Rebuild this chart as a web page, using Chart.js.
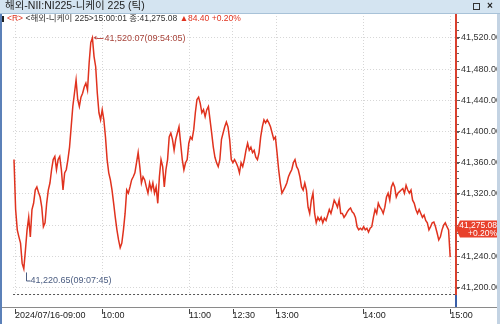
<!DOCTYPE html>
<html>
<head>
<meta charset="utf-8">
<script src="https://cdn.jsdelivr.net/npm/chart.js@4.4.1/dist/chart.umd.min.js"></script>
<style>
  html, body { margin: 0; padding: 0; background: #fff; }
  #wrap { width: 500px; height: 324px; position: relative; }
</style>
</head>
<body>
<div id="wrap"><canvas id="chart"></canvas></div>
<script>
// Nikkei 225 tick chart, 2024/07/16
const titleText = '해외-NII:NI225-니케이 225 (틱)';
const quoteName = '<해외-니케이 225>';
const quoteTime = '15:00:01';
const closeText = '41,275.08';
const changeText = '▲84.40 +0.20%';
const changePct = '+0.20%';
const lastPrice = 41275.08;

// prices, evenly spaced through the session
const prices = [
  41364,41300,41274,41265,41257,41231,41224,41248,41274,41290,41265,41300,41308,41325,41329,41322,41316,41303,41278,41283,
  41308,41325,41334,41351,41364,41368,41351,41364,41368,41351,41325,41347,41351,41364,41380,41406,41432,41449,41466,41441,
  41432,41444,41449,41457,41462,41453,41488,41514,41520,41496,41483,41449,41424,41415,41428,41415,41393,41364,41347,41338,
  41325,41308,41290,41274,41261,41251,
  41257,41274,41295,41325,41321,41329,41338,41342,41347,41360,41373,41355,41334,41342,41338,41329,41321,41334,41325,41334,
  41321,41329,41308,41342,41364,41355,41329,41351,41364,41393,41398,41390,41376,41390,41398,41406,41385,41364,41351,41360,
  41364,41385,41393,41390,41402,41424,41441,41444,41436,41424,41428,41419,41428,41432,41415,41398,41380,41367,41360,41355,
  41364,41390,41398,41406,41412,41406,41390,41364,41360,
  41364,41360,41355,41347,41360,41355,41364,41376,41385,41376,41380,41373,41376,41367,41364,41373,41393,41406,41415,41411,
  41415,41411,41406,41398,41390,41393,41373,41351,41334,41321,41325,41329,41334,41342,41347,41351,41360,41364,41355,41351,
  41342,41329,41325,41334,41325,41303,41295,41312,41321,41295,41283,41290,41286,41290,41283,41289,41286,41293,41300,41295,
  41303,41312,41308,41303,41312,41295,
  41295,41290,41293,41297,41300,41302,41297,41295,41290,41278,41274,41276,41274,41278,41274,41276,41271,41276,41278,41290,
  41300,41295,41308,41303,41300,41295,41303,41316,41321,41312,41329,41334,41329,41316,41321,41323,41325,41327,41321,41331,
  41325,41321,41325,41312,41308,41300,41295,41300,41295,41290,41293,41286,41283,41274,41278,41283,41284,41278,41270,41261,
  41265,41274,41280,41283,41278,41274,41239
];
// trading minutes from 09:00 (lunch 11:30-12:30 removed)
const startMinute = -0.7;
const endMinute = 300;

const xTickMinutes = [0, 60, 120, 150, 180, 240, 300];
const xTickLabels = ['2024/07/16-09:00', '10:00', '11:00', '12:30', '13:00', '14:00', '15:00'];
const yTickValues = [41200, 41240, 41280, 41320, 41360, 41400, 41440, 41480, 41520];

const highValue = 41520.07, highMinute = 54.08, highLabel = '41,520.07(09:54:05)';
const lowValue = 41220.65, lowMinute = 7.75, lowLabel = '41,220.65(09:07:45)';

const points = prices.map(function(p, i) {
  return { x: startMinute + i * (endMinute - startMinute) / (prices.length - 1), y: p };
});

const headFont = '"Liberation Sans", "Noto Sans CJK KR", sans-serif';

const decorPlugin = {
  id: 'decor',
  beforeDraw: function(chart) {
    const ctx = chart.ctx;
    ctx.save();
    ctx.fillStyle = '#fff';
    ctx.fillRect(0, 0, chart.width, chart.height);
    ctx.restore();
  },
  afterDraw: function(chart) {
    const ctx = chart.ctx;
    const xs = chart.scales.x, ys = chart.scales.y;
    const area = chart.chartArea;
    ctx.save();

    // dashed bottom line
    ctx.strokeStyle = '#555';
    ctx.lineWidth = 1;
    ctx.setLineDash([2, 2]);
    ctx.beginPath();
    ctx.moveTo(area.left, area.bottom - 0.5);
    ctx.lineTo(area.right, area.bottom - 0.5);
    ctx.stroke();
    ctx.setLineDash([]);

    // time band
    ctx.strokeStyle = '#8a8a8a';
    ctx.beginPath();
    ctx.moveTo(0, 307.5);
    ctx.lineTo(500, 307.5);
    ctx.stroke();
    ctx.strokeStyle = '#444';
    xTickMinutes.forEach(function(m) {
      const px = Math.round(xs.getPixelForValue(m)) + 0.5;
      ctx.beginPath();
      ctx.moveTo(px, 309);
      ctx.lineTo(px, 314);
      ctx.stroke();
    });

    // right axis line
    ctx.fillStyle = '#d9402e';
    ctx.fillRect(area.right - 1, 14, 2, area.bottom - 14);
    ctx.fillStyle = '#3a5fa8';
    ctx.fillRect(area.right - 1, area.bottom, 2, 307 - area.bottom);
    // minor ticks
    ctx.strokeStyle = '#666';
    for (let v = 41200; v <= 41540; v += 10) {
      const py = Math.round(ys.getPixelForValue(v)) + 0.5;
      ctx.beginPath();
      ctx.moveTo(area.right + 1, py);
      ctx.lineTo(area.right + 3, py);
      ctx.stroke();
    }

    // high annotation
    const hx = xs.getPixelForValue(highMinute), hy = ys.getPixelForValue(highValue);
    ctx.strokeStyle = '#c0504a';
    ctx.fillStyle = '#c0504a';
    ctx.beginPath();
    ctx.moveTo(hx, hy); ctx.lineTo(hx + 3, hy - 2); ctx.lineTo(hx + 3, hy + 2); ctx.closePath(); ctx.fill();
    ctx.beginPath();
    ctx.moveTo(hx + 3, Math.round(hy) + 0.5); ctx.lineTo(hx + 10, Math.round(hy) + 0.5);
    ctx.stroke();
    ctx.font = '9px "Liberation Sans", Arial, sans-serif';
    ctx.textBaseline = 'middle';
    ctx.fillStyle = '#a8453c';
    ctx.fillText(highLabel, hx + 11, hy + 0.5);

    // low annotation
    const lx = Math.round(xs.getPixelForValue(lowMinute)) + 0.5, ly = ys.getPixelForValue(lowValue);
    ctx.strokeStyle = '#4a5c80';
    ctx.beginPath();
    ctx.moveTo(lx, ly + 1); ctx.lineTo(lx, ly + 9.5); ctx.lineTo(lx + 4, ly + 9.5);
    ctx.stroke();
    ctx.fillStyle = '#4a5c80';
    ctx.fillText(lowLabel, lx + 4, ly + 9.5);

    // price box
    const py = ys.getPixelForValue(lastPrice);
    ctx.fillStyle = '#e8412c';
    ctx.beginPath();
    ctx.moveTo(area.right, py);
    ctx.lineTo(area.right + 4, py - 8.5);
    ctx.lineTo(500, py - 8.5);
    ctx.lineTo(500, py + 8.5);
    ctx.lineTo(area.right + 4, py + 8.5);
    ctx.closePath();
    ctx.fill();
    ctx.fillStyle = '#fff';
    ctx.textAlign = 'right';
    ctx.font = '8.5px "Liberation Sans", Arial, sans-serif';
    ctx.fillText(closeText, 497, py - 3.5);
    ctx.fillText(changePct, 497, py + 4.5);
    ctx.textAlign = 'left';

    // title bar
    ctx.fillStyle = '#d4e4f1';
    ctx.fillRect(0, 0, 500, 13);
    ctx.fillStyle = '#a8c2d8';
    ctx.fillRect(0, 13, 500, 1);
    ctx.fillStyle = '#222';
    ctx.font = '10.5px ' + headFont;
    ctx.fillText(titleText, 5, 6.5);
    ctx.strokeStyle = '#333';
    ctx.strokeRect(473.5, 3.5, 6, 6);
    ctx.font = 'bold 10px "Liberation Sans", Arial, sans-serif';
    ctx.fillText('×', 487, 6.5);

    // quote line
    ctx.fillStyle = '#222';
    ctx.fillRect(2, 16, 2, 6);
    let tx = 7;
    ctx.font = '8.5px ' + headFont;
    ctx.fillStyle = '#e0321e';
    ctx.fillText('<R>', tx, 19);
    tx += ctx.measureText('<R> ').width;
    ctx.fillStyle = '#333';
    const mid = quoteName + quoteTime + ' 종:' + closeText + ' ';
    ctx.fillText(mid, tx, 19);
    tx += ctx.measureText(mid).width;
    ctx.fillStyle = '#e0321e';
    ctx.fillText(changeText, tx, 19);

    // frame edges
    ctx.fillStyle = '#5b80b8';
    ctx.fillRect(0, 14, 2, 310);
    ctx.fillStyle = '#c3d3e3';
    ctx.fillRect(497, 14, 3, 310);
    ctx.restore();
  }
};

new Chart(document.getElementById('chart'), {
  type: 'line',
  data: {
    datasets: [{
      data: points,
      borderColor: '#e0321e',
      borderWidth: 1.5,
      pointRadius: 0,
      tension: 0,
      fill: false
    }]
  },
  options: {
    responsive: true,
    maintainAspectRatio: false,
    animation: false,
    events: [],
    layout: { padding: { left: 3, top: 16, right: 0, bottom: 0 } },
    plugins: { legend: { display: false }, tooltip: { enabled: false } },
    scales: {
      x: {
        type: 'linear',
        min: -1.35,
        max: 304,
        afterFit: function(s) { s.height = 29; },
        afterBuildTicks: function(s) { s.ticks = xTickMinutes.map(function(v) { return { value: v }; }); },
        border: { display: false, dash: [1, 2] },
        grid: { color: '#d6d6d6', drawTicks: false },
        ticks: {
          autoSkip: false,
          maxRotation: 0,
          align: 'start',
          padding: 15,
          color: '#222',
          font: { family: '"Liberation Sans", Arial, sans-serif', size: 9 },
          callback: function(v) { const i = xTickMinutes.indexOf(v); return i >= 0 ? xTickLabels[i] : ''; }
        }
      },
      y: {
        position: 'right',
        min: 41190.5,
        max: 41548,
        afterFit: function(s) { s.width = 44; },
        afterBuildTicks: function(s) { s.ticks = yTickValues.map(function(v) { return { value: v }; }); },
        border: { display: false, dash: [1, 2] },
        grid: { color: '#d6d6d6', drawTicks: true, tickLength: 4, tickColor: '#555', tickBorderDash: [] },
        ticks: {
          padding: 1,
          color: '#333',
          font: { family: '"Liberation Sans", Arial, sans-serif', size: 9 },
          callback: function(v) { return v.toLocaleString('en-US', { minimumFractionDigits: 2, maximumFractionDigits: 2 }); }
        }
      }
    }
  },
  plugins: [decorPlugin]
});
</script>
</body>
</html>
